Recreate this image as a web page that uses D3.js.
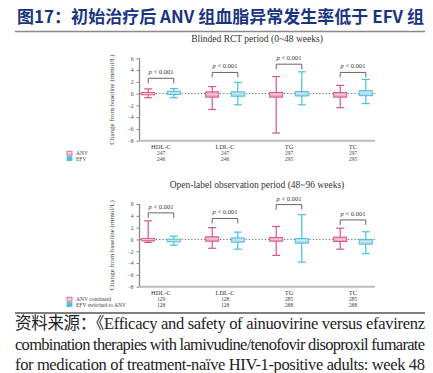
<!DOCTYPE html>
<html>
<head>
<meta charset="utf-8">
<script src="https://cdn.jsdelivr.net/npm/d3@7"></script>
<style>
body { margin: 0; background: #fff; }
svg { display: block; }
</style>
</head>
<body>
<div id="chart"></div>
<script>
// categories and tick labels
var categories = ["HDL-C", "LDL-C", "TG", "TC"];
var yTicks = [6, 4, 2, 0, -2, -4, -6, -8];

// box stats: [whisker low, q1, median, q3, whisker high]
var rctANV = [[-0.7, -0.2, 0, 0.2, 0.8], [-2.7, -0.6, -0.1, 0.3, 1.2], [-6.7, -0.6, -0.1, 0.2, 2.9], [-2.4, -0.6, -0.2, 0.2, 1.4]];
var rctEFV = [[-0.7, -0.15, 0.1, 0.4, 0.85], [-1.9, -0.45, 0, 0.3, 1.9], [-1.9, -0.4, 0, 0.35, 3.7], [-1.7, -0.35, 0.15, 0.5, 2.4]];
var olANV = [[-0.5, -0.24, 0, 0.17, 3.15], [-1.5, -0.3, 0.1, 0.45, 2.0], [-2.7, -0.29, 0.05, 0.34, 2.2], [-1.65, -0.34, 0.05, 0.39, 1.9]];
var olEFV = [[-0.97, -0.4, -0.15, 0.05, 0.56], [-1.65, -0.46, -0.1, 0.27, 1.24], [-3.85, -0.63, -0.2, 0.17, 4.2], [-2.4, -0.8, -0.4, 0, 1.3]];

// bracket heights for p values
var rctBracket = [2.6, 3.6, 5.0, 3.6];
var olBracket = [4.5, 3.55, 5.9, 3.3];

// patient counts
var rctN_ANV = [247, 247, 297, 297];
var rctN_EFV = [246, 246, 295, 295];
var olN_ANV = [129, 128, 285, 285];
var olN_EFV = [128, 128, 288, 288];

var pinkLine = "#d8557f", pinkFill = "#eda8c0";
var blueLine = "#45c2de", blueFill = "#acdcf1";

var svg = d3.select("#chart").append("svg")
	.attr("width", 433)
	.attr("height", 373);

// title
svg.append("text")
	.attr("x", 17)
	.attr("y", 23)
	.attr("textLength", 407)
	.attr("lengthAdjust", "spacingAndGlyphs")
	.style("font-family", "'Noto Sans CJK SC', sans-serif")
	.style("font-weight", "bold")
	.style("font-size", "17px")
	.attr("fill", "#1a3580")
	.text("图17：初始治疗后 ANV 组血脂异常发生率低于 EFV 组");

svg.append("line")
	.attr("x1", 15).attr("x2", 425)
	.attr("y1", 31.5).attr("y2", 31.5)
	.attr("stroke", "#8a8a8a")
	.attr("stroke-width", 1.5);

var x = d3.scaleBand().domain(categories).range([129, 385]);
var off = 12.8;

function panel(opt) {
	var y = d3.scaleLinear().domain([-8, 6]).range([opt.bottom, opt.top]);
	var g = svg.append("g");

	g.append("text")
		.attr("x", 257).attr("y", opt.top - 16)
		.attr("text-anchor", "middle")
		.style("font-family", "'Liberation Serif', serif")
		.style("font-size", "9.5px")
		.attr("fill", "#333")
		.text(opt.title);

	// y axis
	var yAxis = d3.axisLeft(y).tickValues(yTicks).tickSize(3).tickPadding(3);
	var ya = g.append("g").attr("transform", "translate(139.5,0)").call(yAxis);
	ya.select(".domain").attr("stroke", "#888").attr("stroke-width", 1.3).attr("d", "M0," + opt.top + "V" + opt.bottom);
	ya.selectAll(".tick line").attr("stroke", "#888");
	ya.selectAll(".tick text")
		.style("font-family", "'Liberation Serif', serif")
		.style("font-size", "5.5px")
		.attr("fill", "#444");

	g.append("text")
		.attr("transform", "translate(114," + y(-1) + ") rotate(-90)")
		.attr("text-anchor", "middle")
		.style("font-family", "'Liberation Serif', serif")
		.style("font-size", "7px")
		.attr("fill", "#444")
		.text("Change from baseline (mmol/L)");

	// x axis line
	g.append("line")
		.attr("x1", 139).attr("x2", 375)
		.attr("y1", opt.bottom).attr("y2", opt.bottom)
		.attr("stroke", "#bbb")
		.attr("stroke-width", 2);

	// dotted zero line
	g.append("line")
		.attr("x1", 140).attr("x2", 375)
		.attr("y1", y(0)).attr("y2", y(0))
		.attr("stroke", "#666")
		.attr("stroke-width", 1)
		.attr("stroke-dasharray", "1.2,2");

	var series = [
		{ data: opt.a, dx: -off, line: pinkLine, fill: pinkFill },
		{ data: opt.b, dx: off, line: blueLine, fill: blueFill }
	];

	series.forEach(function(s) {
		var grp = g.selectAll(null)
			.data(s.data)
			.enter()
			.append("g")
			.attr("transform", function(d, i) {
				return "translate(" + (x(categories[i]) + x.bandwidth() / 2 + s.dx) + ",0)";
			});

		grp.append("line")
			.attr("x1", 0).attr("x2", 0)
			.attr("y1", function(d) { return y(d[0]); })
			.attr("y2", function(d) { return y(d[4]); })
			.attr("stroke", s.line).attr("stroke-width", 1.2);
		grp.append("line")
			.attr("x1", -4).attr("x2", 4)
			.attr("y1", function(d) { return y(d[0]); })
			.attr("y2", function(d) { return y(d[0]); })
			.attr("stroke", s.line).attr("stroke-width", 1.2);
		grp.append("line")
			.attr("x1", -4).attr("x2", 4)
			.attr("y1", function(d) { return y(d[4]); })
			.attr("y2", function(d) { return y(d[4]); })
			.attr("stroke", s.line).attr("stroke-width", 1.2);
		grp.append("rect")
			.attr("x", -6.5).attr("width", 13)
			.attr("y", function(d) { return y(d[3]); })
			.attr("height", function(d) { return y(d[1]) - y(d[3]); })
			.attr("fill", s.fill)
			.attr("stroke", s.line).attr("stroke-width", 1);
		grp.append("line")
			.attr("x1", -6).attr("x2", 6)
			.attr("y1", function(d) { return y(d[2]); })
			.attr("y2", function(d) { return y(d[2]); })
			.attr("stroke", "#f6dbe5").attr("stroke-width", 0.8);
	});

	// p value brackets
	var br = g.selectAll(null)
		.data(opt.bracket)
		.enter()
		.append("g")
		.attr("transform", function(d, i) {
			return "translate(" + (x(categories[i]) + x.bandwidth() / 2) + "," + y(d) + ")";
		});
	br.append("path")
		.attr("d", "M" + (-off) + ",5V0H" + off + "V5")
		.attr("fill", "none")
		.attr("stroke", "#666")
		.attr("stroke-width", 1);
	br.append("text")
		.attr("y", -4)
		.attr("text-anchor", "middle")
		.style("font-family", "'Liberation Serif', serif")
		.style("font-size", "6.5px")
		.attr("fill", "#333")
		.html("<tspan font-style='italic'>p</tspan> &lt; 0.001");

	// category labels and counts
	categories.forEach(function(c, i) {
		var cx = x(c) + x.bandwidth() / 2;
		g.append("text")
			.attr("x", cx).attr("y", opt.bottom + 8.5)
			.attr("text-anchor", "middle")
			.style("font-family", "'Liberation Serif', serif")
			.style("font-size", "6.5px")
			.attr("fill", "#333")
			.text(c);
		g.append("text")
			.attr("x", cx).attr("y", opt.bottom + 14.5)
			.attr("text-anchor", "middle")
			.style("font-family", "'Liberation Serif', serif")
			.style("font-size", "5.5px")
			.attr("fill", "#444")
			.text(opt.nA[i]);
		g.append("text")
			.attr("x", cx).attr("y", opt.bottom + 20)
			.attr("text-anchor", "middle")
			.style("font-family", "'Liberation Serif', serif")
			.style("font-size", "5.5px")
			.attr("fill", "#444")
			.text(opt.nB[i]);
	});

	// legend
	var leg = [
		{ name: opt.names[0], stroke: pinkLine, fill: "#f6d3df" },
		{ name: opt.names[1], stroke: blueLine, fill: blueLine }
	];
	leg.forEach(function(l, i) {
		var ly = opt.bottom + 10.5 + i * 5.5;
		g.append("rect")
			.attr("x", 67).attr("y", ly).attr("width", 5).attr("height", 4)
			.attr("fill", l.fill).attr("stroke", l.stroke).attr("stroke-width", 0.8);
		g.append("text")
			.attr("x", 76).attr("y", ly + 4)
			.style("font-family", "'Liberation Serif', serif")
			.style("font-size", "5.5px")
			.attr("fill", "#444")
			.text(l.name);
	});
}

panel({
	title: "Blinded RCT period (0~48 weeks)",
	top: 58.3, bottom: 140.7,
	a: rctANV, b: rctEFV, bracket: rctBracket,
	nA: rctN_ANV, nB: rctN_EFV,
	names: ["ANV", "EFV"]
});

panel({
	title: "Open-label observation period (48~96 weeks)",
	top: 204, bottom: 286.7,
	a: olANV, b: olEFV, bracket: olBracket,
	nA: olN_ANV, nB: olN_EFV,
	names: ["ANV continued", "EFV switched to ANV"]
});

// source note
svg.append("line")
	.attr("x1", 15).attr("x2", 425)
	.attr("y1", 313).attr("y2", 313)
	.attr("stroke", "#555")
	.attr("stroke-width", 1.5);

var sourceLines = [
	"资料来源：《Efficacy and safety of ainuovirine versus efavirenz",
	"combination therapies with lamivudine/tenofovir disoproxil fumarate",
	"for medication of treatment-naïve HIV-1-positive adults: week 48"
];
svg.selectAll(".src")
	.data(sourceLines)
	.enter()
	.append("text")
	.attr("class", "src")
	.attr("x", 15)
	.attr("y", function(d, i) { return 329 + i * 20.5; })
	.attr("textLength", 410)
	.attr("lengthAdjust", "spacing")
	.style("font-family", "'Liberation Serif', 'Noto Sans CJK SC', serif")
	.style("font-size", "16.5px")
	.attr("fill", "#222")
	.text(function(d) { return d; });
</script>
</body>
</html>
